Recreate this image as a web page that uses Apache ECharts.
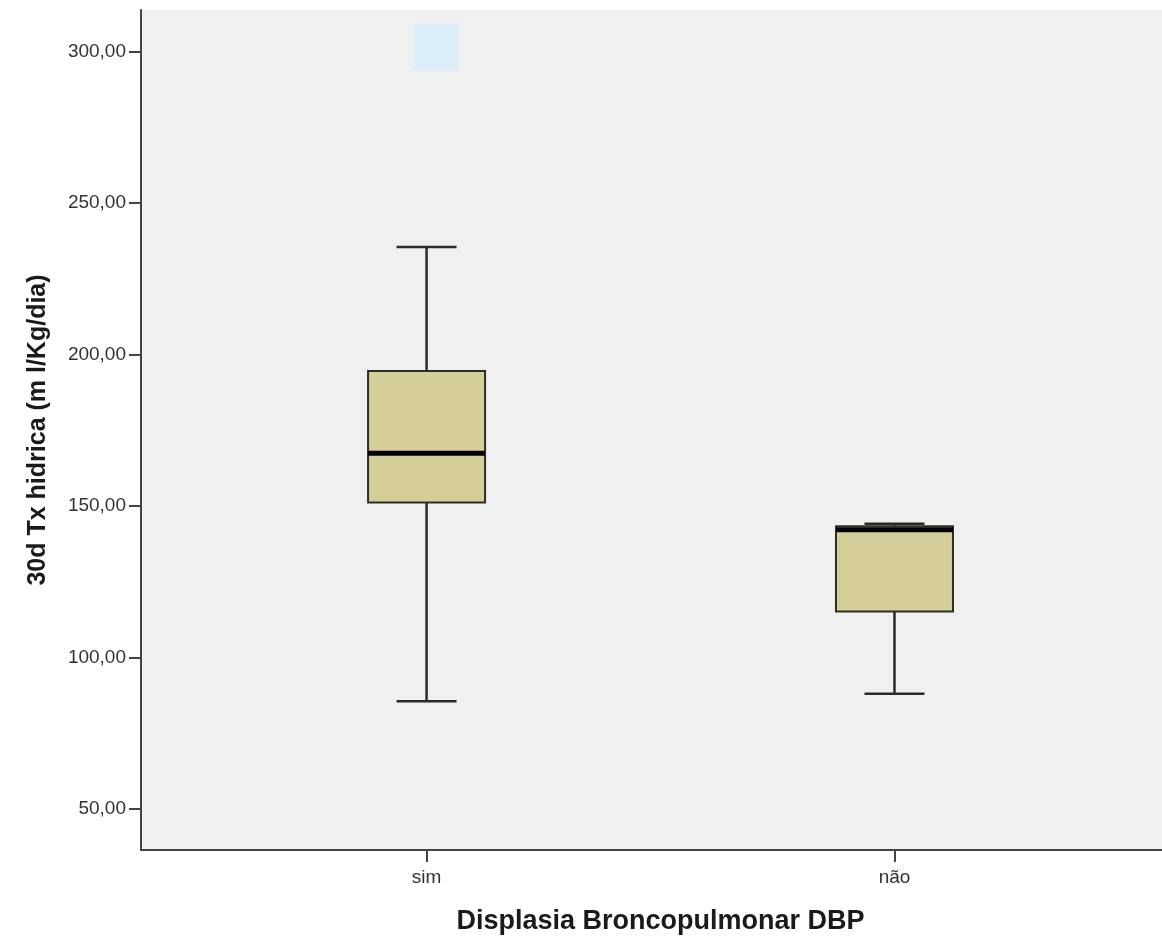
<!DOCTYPE html>
<html>
<head>
<meta charset="utf-8">
<script src="https://cdn.jsdelivr.net/npm/echarts@6/dist/echarts.min.js"></script>
<style>
  html, body { margin: 0; padding: 0; background: #ffffff; }
  #chart { width: 1162px; height: 941px; }
</style>
</head>
<body>
<div id="chart"></div>
<script>
// Groups and their box-plot statistics (ml/Kg/dia)
const categories = ['sim', 'não'];
const whiskerLow = [85.5, 88.0];
const q1 = [151.1, 115.1];
const median = [167.4, 142.1];
const q3 = [194.5, 143.3];
const whiskerHigh = [235.5, 144.1];
// Extreme value marked above the "sim" group
const extremePoints = [[1.02, 301.4]];
const yTicks = [50, 100, 150, 200, 250, 300];

const boxData = categories.map((c, i) => [i + 1, whiskerLow[i], q1[i], median[i], q3[i], whiskerHigh[i]]);

const chart = echarts.init(document.getElementById('chart'), null, { renderer: 'canvas' });

const BOX_W = 117;
const CAP_W = 60;

function renderBox(params, api) {
  const x = api.value(0);
  const pLow = api.coord([x, api.value(1)]);
  const pQ1 = api.coord([x, api.value(2)]);
  const pMed = api.coord([x, api.value(3)]);
  const pQ3 = api.coord([x, api.value(4)]);
  const pHigh = api.coord([x, api.value(5)]);
  const cx = pLow[0];
  const lineStyle = { stroke: '#2a2a2a', lineWidth: 2.5 };
  return {
    type: 'group',
    children: [
      { type: 'line', shape: { x1: cx, y1: pHigh[1], x2: cx, y2: pQ3[1] }, style: lineStyle },
      { type: 'line', shape: { x1: cx, y1: pQ1[1], x2: cx, y2: pLow[1] }, style: lineStyle },
      { type: 'line', shape: { x1: cx - CAP_W / 2, y1: pHigh[1], x2: cx + CAP_W / 2, y2: pHigh[1] }, style: lineStyle },
      { type: 'line', shape: { x1: cx - CAP_W / 2, y1: pLow[1], x2: cx + CAP_W / 2, y2: pLow[1] }, style: lineStyle },
      {
        type: 'rect',
        shape: { x: cx - BOX_W / 2, y: pQ3[1], width: BOX_W, height: pQ1[1] - pQ3[1] },
        style: { fill: '#d4cf98', stroke: '#2e2e28', lineWidth: 2 }
      },
      { type: 'line', shape: { x1: cx - BOX_W / 2, y1: pMed[1], x2: cx + BOX_W / 2, y2: pMed[1] }, style: { stroke: '#000000', lineWidth: 5 } }
    ]
  };
}

chart.setOption({
  animation: false,
  backgroundColor: '#ffffff',
  textStyle: { fontFamily: 'Liberation Sans, Arial, sans-serif' },
  grid: {
    left: 141, top: 10, right: -2, bottom: 91,
    outerBoundsMode: 'none', containLabel: false,
    show: true, backgroundColor: '#f0f0f0', borderWidth: 0
  },
  xAxis: {
    type: 'value',
    min: 0.3897,
    max: 2.576,
    name: 'Displasia Broncopulmonar DBP',
    nameLocation: 'middle',
    nameGap: 58,
    nameTextStyle: { fontSize: 27, fontWeight: 'bold', color: '#1a1a1a', fontFamily: 'Liberation Sans, Arial, sans-serif', padding: [0, 0, 0, 16] },
    splitLine: { show: false },
    axisLine: { show: true, lineStyle: { color: '#444444', width: 2 } },
    axisTick: { show: true, customValues: [1, 2], length: 12, lineStyle: { color: '#444444', width: 2 } },
    axisLabel: {
      customValues: [1, 2],
      formatter: v => categories[Math.round(v) - 1] || '',
      fontSize: 19,
      color: '#333333',
      margin: 18
    }
  },
  yAxis: {
    type: 'value',
    min: 36.4,
    max: 313.7,
    name: '30d Tx hidrica (m l/Kg/dia)',
    nameLocation: 'middle',
    nameGap: 90,
    nameRotate: 90,
    nameTextStyle: { fontSize: 25, fontWeight: 'bold', color: '#1a1a1a', fontFamily: 'Liberation Sans, Arial, sans-serif', padding: [0, 0, 0, 0] },
    splitLine: { show: false },
    axisLine: { show: true, lineStyle: { color: '#444444', width: 2 } },
    axisTick: { show: true, customValues: yTicks, length: 12, inside: false, lineStyle: { color: '#444444', width: 2 } },
    axisLabel: {
      customValues: yTicks,
      formatter: v => v.toFixed(2).replace('.', ','),
      fontSize: 19,
      color: '#333333',
      margin: 15
    }
  },
  series: [
    {
      type: 'custom',
      renderItem: renderBox,
      data: boxData,
      encode: { x: 0, y: [1, 2, 3, 4, 5] },
      z: 3
    },
    {
      type: 'scatter',
      data: extremePoints,
      symbol: 'rect',
      symbolSize: [46, 47],
      itemStyle: { color: '#d8eefe' },
      z: 4
    }
  ]
});
</script>
</body>
</html>
